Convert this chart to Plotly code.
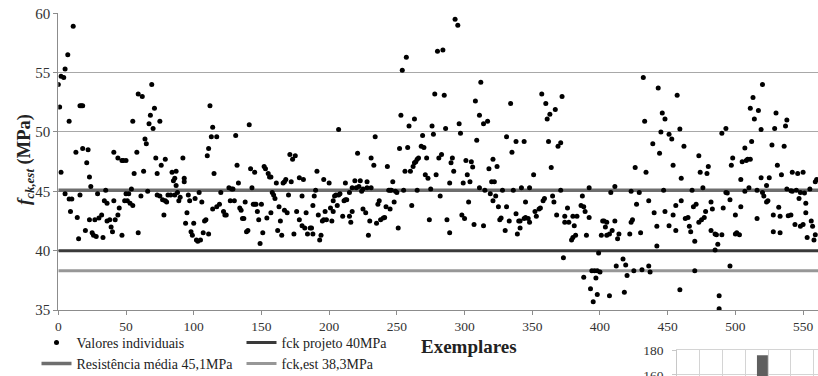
import plotly.graph_objects as go

# ---------------- data ----------------
# Exemplares 0-156
exemplar_a = [0,1,2,2,4,5,5,7,8,8,
              9,10,11,13,14,15,16,16,17,18,
              18,20,21,22,23,23,24,25,26,27,
              28,29,30,32,33,34,35,36,36,38,
              39,40,41,41,42,44,44,45,47,47,
              48,49,50,50,51,52,53,54,55,55,
              56,58,59,59,61,62,63,64,65,66,
              67,68,69,70,71,72,73,73,75,75,
              76,77,78,79,79,80,81,83,84,85,
              86,86,87,87,88,89,90,92,93,93,
              94,95,96,97,98,99,100,101,102,103,
              104,105,106,107,108,109,110,111,111,112,
              113,114,114,115,117,117,119,120,122,123,
              124,126,127,128,129,130,131,132,133,134,
              135,136,137,138,139,140,141,142,143,144,
              145,145,146,147,148,149,150,151,152,153,
              154,155,156]
fck_a = [54.0,52.1,54.7,46.6,54.6,55.3,44.8,56.5,50.9,44.35,
         43.3,44.35,58.9,48.3,42.8,41.0,52.2,44.7,52.2,52.2,
         48.6,41.7,47.4,48.5,46.2,42.6,45.4,41.5,41.3,42.6,
         41.2,44.8,42.75,43.0,41.1,44.2,45.1,42.5,44.0,42.6,
         42.0,41.6,48.3,44.2,42.6,47.8,43.0,43.6,47.6,41.3,
         47.6,44.2,47.6,44.8,44.2,44.8,44.0,45.2,50.9,43.8,
         46.5,48.3,53.2,41.5,44.6,53.0,46.7,49.4,49.0,45.0,
         50.7,51.4,54.0,50.3,52.0,47.8,46.5,44.7,50.9,44.6,
         47.2,44.3,43.0,47.7,44.2,44.1,44.7,44.7,46.6,45.9,
         46.1,44.7,46.7,45.5,44.9,44.2,44.5,47.8,46.1,45.8,
         42.3,43.2,44.7,44.2,41.6,41.3,42.3,44.4,40.9,40.8,
         44.9,40.9,44.1,41.5,42.5,42.6,48.0,48.6,41.4,52.2,
         49.6,50.4,43.5,46.5,49.6,43.7,43.9,44.9,43.3,43.0,
         43.0,45.3,44.2,45.2,45.2,44.2,49.7,47.2,45.7,43.6,
         43.4,42.7,42.7,44.1,41.6,41.7,50.6,46.9,45.3,43.9,
         46.6,43.9,43.9,43.3,42.6,40.6,43.9,41.5,47.1,46.9,
         42.75,46.5,46.2]

# Exemplares 157-356
exemplar_b = [157,157,158,159,160,161,162,163,164,165,
              166,167,167,168,169,170,171,172,173,174,
              175,176,178,178,180,180,181,182,183,184,
              186,187,188,188,189,190,191,192,193,194,
              195,196,196,197,198,200,201,202,203,203,
              204,205,206,207,207,208,210,211,212,212,
              213,215,215,216,217,217,219,220,221,222,
              223,224,225,225,227,228,228,229,230,231,
              231,233,234,235,236,237,238,240,241,242,
              243,244,245,245,246,247,248,249,250,251,
              252,253,254,255,256,257,258,259,260,261,
              262,263,263,264,265,265,266,268,269,270,
              271,272,273,274,275,276,277,278,279,280,
              281,282,283,284,285,286,287,289,289,290,
              291,292,293,295,296,297,298,299,300,301,
              302,303,304,305,306,307,308,309,311,311,
              312,314,314,315,317,318,319,320,321,321,
              322,323,324,325,326,327,328,330,331,331,
              333,334,335,336,338,338,339,340,341,341,
              342,344,344,345,345,347,348,348,351,352,
              353,355,356]
fck_b = [46.2,43.2,44.9,44.7,44.4,45.7,41.7,43.7,42.5,41.3,
         45.7,45.8,43.4,46.0,43.2,44.7,48.1,45.8,47.7,41.4,
         48.0,43.3,46.15,42.6,44.6,42.1,46.0,41.9,43.2,41.4,
         41.9,41.9,41.4,43.8,44.6,45.1,46.7,43.0,40.9,41.3,
         42.5,46.0,42.6,43.3,42.6,45.7,43.6,42.5,43.3,44.2,
         44.6,44.7,43.8,50.2,44.7,44.8,42.9,44.2,44.3,45.7,
         44.3,42.9,44.9,42.4,43.3,45.3,45.9,45.3,48.2,45.4,
         45.9,45.0,45.2,43.5,43.2,45.8,45.3,41.3,42.5,47.8,
         45.3,47.2,49.6,42.3,43.9,44.2,42.6,42.75,42.8,43.7,
         47.1,45.1,45.1,43.5,45.1,45.8,44.1,45.0,44.9,41.9,
         48.6,51.4,55.2,45.1,46.7,56.3,48.7,50.5,46.7,43.8,
         47.1,51.1,47.4,47.5,47.7,45.1,47.8,48.8,49.7,48.7,
         46.4,47.8,46.1,42.6,45.2,50.5,49.8,53.2,46.4,56.8,
         47.8,44.6,48.1,56.9,53.1,50.3,42.6,41.5,45.7,47.4,
         47.8,46.7,59.5,59.0,50.7,49.9,43.0,45.7,42.7,47.6,
         46.4,44.1,45.8,47.5,47.05,42.2,52.6,49.3,51.4,45.3,
         54.2,50.7,42.1,45.1,50.9,46.9,44.8,45.8,47.7,44.2,
         45.8,44.6,47.1,43.7,42.6,42.75,45.1,41.7,49.6,43.7,
         42.5,52.4,48.3,45.1,49.2,43.1,41.4,42.5,42.5,41.9,
         45.3,49.2,42.7,42.8,44.1,42.7,42.4,45.3,46.4,43.3,
         42.9,43.5,43.6]

# Exemplares 357-560
exemplar_c = [357,358,359,360,361,362,363,364,365,366,
              367,368,369,371,371,372,373,374,374,376,
              377,379,380,380,381,382,383,386,387,388,
              388,389,390,392,392,393,394,395,396,397,
              398,398,399,400,401,402,403,404,405,405,
              407,407,408,409,411,411,412,413,414,417,
              418,419,420,422,423,423,424,425,426,427,
              429,430,431,432,433,434,436,436,437,439,
              440,442,442,443,444,445,446,447,448,448,
              451,451,453,454,454,456,456,457,459,459,
              460,460,462,463,465,466,467,468,469,470,
              470,471,473,473,474,475,476,477,478,479,
              480,482,482,483,485,485,486,487,488,488,
              490,490,491,493,493,494,496,496,497,498,
              500,500,501,503,504,504,505,507,507,508,
              509,510,511,511,512,513,514,516,516,517,
              519,519,520,520,521,523,523,524,525,527,
              528,528,529,530,531,532,533,533,534,536,
              537,538,538,539,541,541,542,542,544,545,
              546,547,548,548,550,550,551,552,552,553,
              555,556,557,558,559,559,560]
fck_c = [53.2,44.2,44.4,52.4,51.1,49.2,51.5,47.0,44.6,44.1,
         51.9,43.0,48.8,49.1,45.1,53.0,39.4,42.9,42.4,43.6,
         42.4,40.9,42.9,41.1,42.1,41.3,42.9,43.8,44.6,43.7,
         37.75,43.3,41.3,45.3,42.8,36.8,38.3,35.7,38.3,37.7,
         38.3,36.3,39.8,38.2,41.3,42.5,42.5,42.0,42.4,41.3,
         41.4,36.2,44.9,41.7,45.4,42.5,38.7,41.0,41.4,39.3,
         36.5,38.8,37.9,41.4,45.0,42.4,42.6,38.3,47.0,43.9,
         44.9,41.5,38.4,54.6,50.9,46.6,44.2,38.7,38.2,49.0,
         43.2,42.05,40.4,53.7,48.2,50.0,51.6,45.1,51.1,43.3,
         49.8,42.1,49.4,47.2,43.0,41.7,43.8,53.1,50.25,36.7,
         46.1,44.2,48.8,42.7,42.8,42.05,41.6,45.1,43.7,40.8,
         38.3,43.9,48.0,42.4,46.6,42.6,45.3,42.8,43.3,46.5,
         47.1,44.1,41.7,43.5,41.4,40.05,41.35,40.55,36.2,35.1,
         49.9,41.35,43.6,50.3,44.9,44.85,44.3,38.7,47.2,47.8,
         41.4,43.0,41.5,41.35,46.0,43.7,47.5,48.65,45.0,47.6,
         47.7,45.3,47.7,52.0,49.2,52.9,51.1,45.1,42.7,51.8,
         46.15,50.2,54.0,44.9,44.6,44.1,45.5,44.2,46.15,48.9,
         43.0,41.6,50.3,51.6,47.2,43.65,42.9,41.5,46.4,48.8,
         50.5,51.0,45.2,42.95,45.05,43.0,46.6,45.0,42.2,45.1,
         46.5,44.4,44.9,42.05,46.6,42.2,44.85,44.0,43.2,41.1,
         45.2,42.5,42.05,40.9,45.8,41.35,46.0]

assert len(exemplar_a) == len(fck_a)
assert len(exemplar_b) == len(fck_b)
assert len(exemplar_c) == len(fck_c)

exemplares = exemplar_a + exemplar_b + exemplar_c
fck_est_individual = fck_a + fck_b + fck_c

# reference levels (MPa)
resistencia_media = 45.1
fck_projeto = 40.0
fck_est = 38.3

# legend labels
label_pontos = "Valores individuais"
label_projeto = "fck projeto 40MPa"
label_media = "Resistência média 45,1MPa"
label_est = "fck,est 38,3MPa"

# axis ticks
x_ticks = [0, 50, 100, 150, 200, 250, 300, 350, 400, 450, 500, 550]
y_ticks = [35, 40, 45, 50, 55, 60]

# partially visible histogram inset (bottom right)
inset_classes = [3.75]
inset_counts = [176]
inset_y_ticks = [160, 180]

# ---------------- figure ----------------
W, H = 818, 376
x_range = [0, 561]
FONT = "Liberation Serif"

fig = go.Figure()

fig.add_trace(go.Scatter(
    x=x_range, y=[resistencia_media] * 2, mode="lines", name=label_media,
    line=dict(color="#6e6e6e", width=3.5), legend="legend2", legendrank=1,
    hoverinfo="skip"))
fig.add_trace(go.Scatter(
    x=x_range, y=[fck_projeto] * 2, mode="lines", name=label_projeto,
    line=dict(color="#3a3a3a", width=3), legend="legend", legendrank=2,
    hoverinfo="skip"))
fig.add_trace(go.Scatter(
    x=x_range, y=[fck_est] * 2, mode="lines", name=label_est,
    line=dict(color="#979797", width=3), legend="legend2", legendrank=2,
    hoverinfo="skip"))
fig.add_trace(go.Scatter(
    x=exemplares, y=fck_est_individual, mode="markers", name=label_pontos,
    marker=dict(color="#000000", size=5, line=dict(width=0)),
    legend="legend", legendrank=1))

fig.add_trace(go.Bar(
    x=inset_classes, y=inset_counts, width=0.48, marker=dict(color="#5f5f5f", line=dict(width=0)),
    xaxis="x2", yaxis="y2", showlegend=False))

axis_col = "#8c8c8c"
fig.update_layout(
    width=W, height=H, autosize=False,
    margin=dict(l=0, r=0, t=0, b=0, autoexpand=False),
    paper_bgcolor="white", plot_bgcolor="white",
    font=dict(family=FONT, color="#333333", size=14),
    xaxis=dict(domain=[58.3 / W, 1.0], range=x_range, tickvals=x_ticks,
               showgrid=False, zeroline=False, showline=True, linecolor=axis_col,
               linewidth=1, ticks="outside", ticklen=4, tickcolor=axis_col,
               tickfont=dict(family=FONT, size=13.5, color="#333333"),
               anchor="y", automargin=False),
    yaxis=dict(domain=[(H - 310) / H, (H - 13.3) / H], range=[35, 60], tickvals=y_ticks,
               showgrid=True, gridcolor="#a8a8a8", gridwidth=1, zeroline=False,
               showline=True, linecolor=axis_col, linewidth=1,
               ticks="outside", ticklen=4, tickcolor=axis_col,
               tickfont=dict(family=FONT, size=15, color="#333333"),
               anchor="x", automargin=False),
    xaxis2=dict(domain=[677.3 / W, 1.0], range=[0, 6.2], dtick=1, tick0=0,
                showgrid=True, gridcolor="#d4d4d4", zeroline=False,
                showline=True, mirror=True, linecolor="#d4d4d4", linewidth=1,
                showticklabels=False, ticks="", anchor="y2",
                automargin=False),
    yaxis2=dict(domain=[0.0, (H - 350.3) / H], range=[159, 180], tickvals=inset_y_ticks,
                showgrid=True, gridcolor="#d4d4d4", zeroline=False,
                showline=True, linecolor="#c8c8c8", ticks="outside", ticklen=4,
                tickcolor="#c8c8c8", ticklabelstandoff=6, ticklabeloverflow="allow",
                tickfont=dict(family=FONT, size=13.5, color="#333333"), anchor="x2",
                automargin=False),
    legend=dict(orientation="h", x=36.5 / W, xanchor="left", y=(H - 343) / H,
                yanchor="middle", entrywidth=160, entrywidthmode="pixels",
                bgcolor="rgba(0,0,0,0)", font=dict(family=FONT, size=14, color="#222222"),
                itemwidth=30, traceorder="normal"),
    legend2=dict(orientation="h", x=36.5 / W, xanchor="left", y=(H - 364) / H,
                 yanchor="middle", entrywidth=160, entrywidthmode="pixels",
                 bgcolor="rgba(0,0,0,0)", font=dict(family=FONT, size=14, color="#222222"),
                 itemwidth=30, traceorder="normal"),
    annotations=[
        dict(text="<b><i>f</i><sub><i>ck,est</i></sub> (MPa)</b>", textangle=-90,
             xref="paper", yref="paper", x=26 / W, y=(H - 160) / H,
             xanchor="center", yanchor="middle", showarrow=False,
             font=dict(family=FONT, size=18.5, color="#222222")),
        dict(text="<b>Exemplares</b>", xref="paper", yref="paper",
             x=469 / W, y=(H - 346) / H, xanchor="center", yanchor="middle",
             showarrow=False, font=dict(family=FONT, size=19, color="#222222")),
    ],
    showlegend=True,
    hovermode=False,
)

fig.write_html(
    "out.html",
    config={"displayModeBar": False},
    post_script="document.body.style.margin='0';document.body.style.padding='0';"
                "document.body.style.overflow='hidden';",
)
